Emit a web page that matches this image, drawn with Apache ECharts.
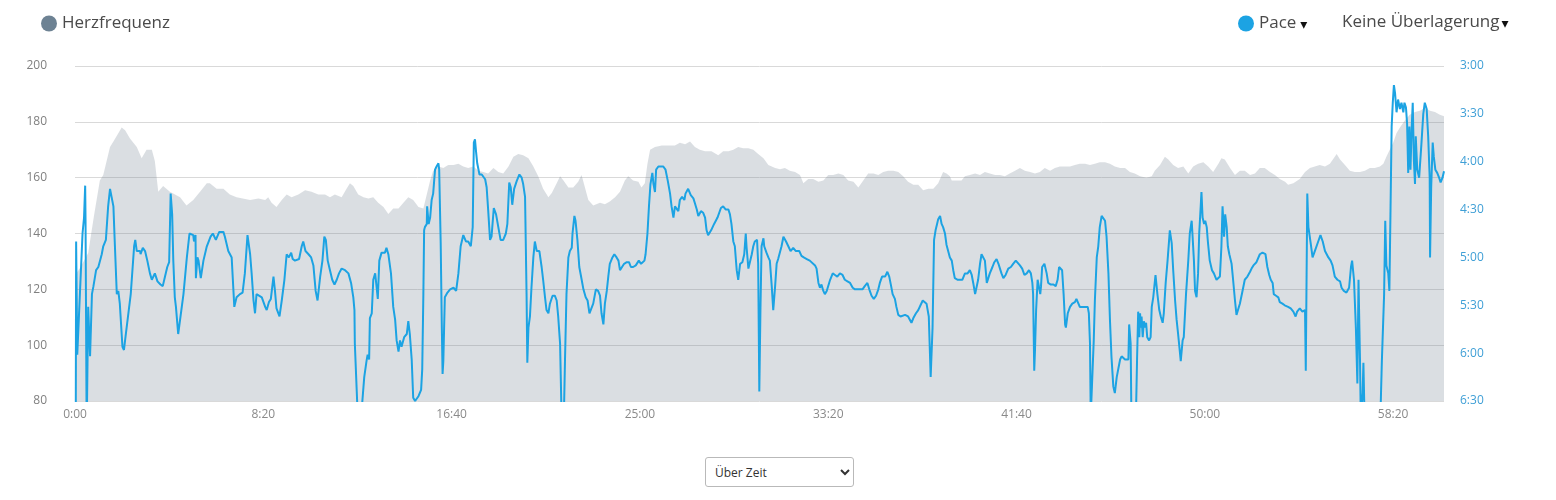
<!DOCTYPE html>
<html>
<head>
<meta charset="utf-8">
<title>Herzfrequenz / Pace</title>
<script src="https://cdn.jsdelivr.net/npm/echarts@6/dist/echarts.min.js"></script>
<style>
  html, body { margin: 0; padding: 0; background: #ffffff; }
  #wrap { position: relative; width: 1556px; height: 500px; }
  #chart { width: 1556px; height: 500px; }
  .modeSelect {
    position: absolute; left: 705px; top: 457px; width: 149px; height: 30px;
    font-family: 'Open Sans', sans-serif; font-size: 12px; color: #333;
    border: 1px solid #b9b9b9; border-radius: 3px; background: #fff; padding: 0 5px;
  }
</style>
</head>
<body>
<div id="wrap">
  <div id="chart"></div>
  <select class="modeSelect">
    <option>Über Zeit</option>
    <option>Über Distanz</option>
  </select>
</div>
<script>
  // Zeit in Sekunden, Herzfrequenz in bpm
  var heartRate = [
    [0,125],[15,128],[35,133],[50,146],[66,159],[75,161],[93,171],[102,173],[124,178],[133,177],[146,174],[164,171],
    [177,167],[190,170],[204,170],[212,166],[221,155],[234,157],[252,155],[279,153],[296,150],[314,152],[332,155],
    [350,158],[358,158],[376,156],[394,156],[411,154],[429,153],[465,152],
    [487,152.5],[505,152],[513,153],[522,151],[535,149.5],[549,152],[562,154],[575,153],[593,154],[611,155.5],
    [628,155],[646,154],[664,154],[677,153],[690,154],[708,153],[721,156],[730,158],[739,157],[752,154],[766,153],
    [779,152.5],[792,153],[805,151],[819,149.5],[832,147],[845,149],[859,149],[872,151],[885,153],[898,152],
    [912,149.5],[925,149],
    [934,154],[943,159],[951,162.5],[965,164],[978,163.5],[991,164.5],[1005,164.5],[1018,165],[1031,164],[1044,163.5],
    [1058,164],[1071,162.5],[1084,162],[1097,161.5],[1111,163.5],[1124,162],[1137,161.5],[1151,164],[1164,167.5],
    [1177,168.5],[1190,168],[1204,167],[1217,164],[1230,160.5],[1243,156],[1257,153],[1266,154.5],[1279,158],
    [1288,160.5],[1297,159],[1310,156.5],[1323,156.5],[1336,158.5],[1345,161],[1354,156.5],[1363,152],[1376,150],
    [1394,151],
    [1407,150.5],[1420,151.5],[1434,153],[1447,155],[1460,159],[1469,160.5],[1482,159],[1496,158.5],[1504,156.5],
    [1513,158],[1520,165],[1527,170],[1540,171],[1558,171.5],[1575,171.5],[1593,171.5],[1606,172.5],[1620,172],
    [1633,173],[1646,171],[1659,170],[1673,169.5],[1690,169.5],[1708,168],[1721,169.5],[1735,169.5],[1748,170],
    [1761,171],[1774,170.5],[1788,170.5],[1801,170],[1814,168.5],[1828,167],[1841,164.5],[1859,163.5],
    [1872,163],[1885,163.5],[1898,162.5],[1912,162],[1925,161],[1934,158],[1947,159.5],[1960,159.5],[1974,158.5],
    [1987,159],[2000,161],[2013,161],[2027,161.5],[2040,161],[2053,159],[2067,158.5],[2080,156.5],[2093,159],
    [2106,161.5],[2120,161.5],[2133,161],[2146,162],[2159,162.5],[2173,162.5],[2186,162],[2199,160.5],[2212,158.5],
    [2226,157.5],[2239,157.5],[2252,155.5],[2266,156],[2279,156],[2292,158],[2305,162],[2314,161.5],[2323,160.5],
    [2328,159],[2341,159],[2354,159],[2363,160.5],[2376,161],[2390,161.5],[2403,161],[2416,162],[2429,161.5],
    [2443,161],[2456,161],[2469,160.5],[2482,161.5],[2496,162.5],[2509,163.5],[2522,162.5],[2536,162],[2549,161.5],
    [2562,162],[2575,163.5],[2589,162.5],[2602,163.5],[2615,164],[2629,164],[2642,164],[2655,164.5],[2668,165],
    [2682,165],[2695,164.5],[2708,165],[2721,165.5],[2735,165.5],[2748,165],[2761,164],[2775,163.5],[2788,163.5],
    [2801,162],[2814,161.5],[2828,160.5],[2845,160],[2859,160.5],[2867,162.5],[2881,164.5],[2894,167.5],[2903,166.5],
    [2916,164.5],[2929,163.5],[2943,164],[2956,161.5],[2969,164],[2982,165],[2996,165.5],[3009,164],[3022,162],
    [3036,165],[3044,167],[3053,166.5],[3067,163.5],[3080,161],[3093,162.5],[3106,162.5],[3120,161],[3133,161.5],
    [3146,163.5],[3159,163.5],[3173,162],[3186,161],[3199,159.5],[3213,158.5],[3221,157.5],[3235,158],[3252,159.5],
    [3266,162],[3279,163.5],[3292,164],[3305,164.5],[3319,164],[3332,165],[3345,167.5],[3350,168.5],[3359,166.5],
    [3372,164.5],[3385,162.5],[3398,162],[3412,162],[3425,162.5],[3438,163.5],[3451,163.5],[3465,164],[3474,165],
    [3482,167.5],[3491,170],[3500,172.5],[3509,176],[3518,178],[3531,180.5],[3544,182.5],[3558,183.5],[3571,184],
    [3584,185],[3598,184],[3611,183.5],[3624,182.5],[3635,182]
  ];

  // Zeit in Sekunden, Pace in Sekunden pro km (Werte > 390 liegen unter dem Diagramm)
  var pace = [
    [2,410],[3,290],[6,361],[10,362],[13,323],[20,285],[24,275],[27,255],[28,277],[31,410],[35,331],[40,362],[45,323],
    [49,318],[56,308],[62,306],[71,298],[75,293],[82,289],[88,268],[93,257],[97,258],[102,268],[106,293],[111,323],
    [115,321],[119,329],[126,356],[130,358],[134,350],[137,350],[148,323],[157,293],[160,289],[164,296],[173,296],
    [174,298],[180,294],[186,296],[192,302],[199,310],[204,314],[212,310],[219,315],[227,317],[233,318],[239,312],
    [245,306],[250,303],[254,260],[258,273],[261,302],[265,325],[268,331],[274,348],[279,348],[288,323],[297,300],
    [304,285],[314,286],[316,290],[320,286],[321,313],[325,300],[328,302],[334,313],[341,302],[350,293],[360,287],
    [366,285],[374,289],[383,284],[394,284],[398,287],[407,296],[416,300],[423,331],[429,325],[438,323],[445,322],
    [451,310],[458,286],[465,298],
    [469,310],[474,327],[478,335],[482,323],[487,322],[496,325],[505,331],[509,333],[515,328],[520,326],[527,312],
    [531,321],[535,332],[543,337],[549,327],[556,314],[562,298],[568,300],[574,297],[578,301],[584,302],[589,303],
    [595,301],[602,293],[606,290],[612,296],[620,298],[627,300],[633,305],[639,321],[644,327],[651,312],[657,302],
    [662,287],[666,289],[671,302],[677,308],[683,314],[689,317],[695,314],[701,310],[708,307],[717,308],[721,307],
    [726,310],[733,316],[739,325],[742,333],[743,354],[747,354],[750,395],[757,400],[761,396],[768,375],[774,365],
    [777,361],[781,364],[783,338],[788,335],[792,314],[797,310],[801,319],[804,326],[808,302],[814,297],[819,296],
    [823,297],[827,294],[832,298],[839,310],[845,331],[850,339],[854,352],[859,359],[863,352],[867,356],[874,350],
    [881,348],[885,340],[889,348],[894,364],[898,388],[903,390],[912,387],[919,383],
    [922,370],[925,323],[927,283],[929,281],[934,279],[935,268],[939,279],[943,275],[947,264],[951,260],[956,245],
    [960,243],[965,241],[967,245],[971,291],[974,344],[976,373],[978,365],[982,325],[985,325],[989,322],[996,320],
    [1005,319],[1012,321],[1018,310],[1024,293],[1031,286],[1038,290],[1044,290],[1051,293],[1056,281],[1059,228],
    [1062,226],[1065,234],[1068,241],[1074,248],[1080,248],[1089,251],[1093,256],[1097,270],[1102,289],[1106,287],
    [1112,269],[1118,273],[1124,281],[1130,289],[1137,289],[1144,285],[1148,279],[1153,253],[1157,256],[1161,267],
    [1166,257],[1173,252],[1180,248],[1186,250],[1190,254],[1195,262],[1199,323],[1201,366],[1204,344],[1208,337],
    [1212,319],[1217,300],[1221,290],[1226,296],[1233,296],[1239,306],[1243,314],[1248,325],[1252,333],[1257,335],
    [1261,329],[1268,324],[1274,324],[1279,327],[1283,337],[1288,354],[1292,400],[1298,400],[1301,365],[1305,323],
    [1310,300],[1314,296],[1319,294],[1321,285],[1326,274],[1329,277],[1334,289],[1339,306],[1343,311],[1350,320],
    [1356,325],[1361,327],[1366,335],[1371,335],[1376,329],[1383,320],[1389,321],[1394,324],
    [1398,335],[1403,342],[1407,329],[1412,321],[1416,312],[1420,304],[1427,300],[1432,298],[1438,300],[1443,302],
    [1447,308],[1451,307],[1458,304],[1465,303],[1471,303],[1476,306],[1482,306],[1489,305],[1494,304],[1497,302],
    [1503,304],[1506,305],[1512,302],[1515,298],[1520,285],[1524,268],[1528,254],[1533,247],[1536,254],[1540,259],
    [1543,245],[1549,243],[1556,243],[1562,243],[1568,245],[1574,252],[1580,260],[1584,268],[1589,275],[1593,268],
    [1597,268],[1602,271],[1606,264],[1612,262],[1618,264],[1621,260],[1628,257],[1635,261],[1642,263],[1646,266],
    [1651,270],[1655,274],[1662,271],[1668,272],[1673,275],[1677,283],[1681,286],[1689,283],[1697,279],[1706,275],
    [1715,269],[1721,268],[1728,270],[1735,270],[1739,273],[1743,279],[1748,290],[1752,293],[1757,308],[1761,314],
    [1766,304],[1772,303],[1777,298],[1781,285],[1783,293],[1788,307],[1792,308],[1797,298],[1801,293],[1805,290],
    [1811,289],[1814,304],[1817,384],[1820,333],[1823,293],[1828,288],[1830,293],[1836,297],[1841,300],[1845,302],
    [1850,318],[1854,333],[1857,333],
    [1859,318],[1863,304],[1867,301],[1872,300],[1876,293],[1881,287],[1888,290],[1894,293],[1900,296],[1907,294],
    [1914,296],[1923,296],[1929,299],[1935,300],[1943,301],[1947,300],[1951,302],[1956,303],[1965,305],[1969,307],
    [1974,316],[1978,319],[1982,317],[1987,321],[1991,323],[1996,321],[2005,314],[2012,310],[2018,311],[2024,312],
    [2031,310],[2038,311],[2044,314],[2051,315],[2058,316],[2065,319],[2071,320],[2077,320],[2084,320],[2091,320],
    [2097,318],[2104,316],[2109,320],[2115,324],[2121,326],[2127,324],[2133,320],[2137,316],[2143,312],[2151,312],
    [2157,309],[2162,312],[2167,318],[2171,323],[2177,326],[2181,331],[2186,336],[2192,337],[2197,337],[2204,336],
    [2208,335],[2212,337],[2217,338],[2221,341],[2226,338],[2233,335],[2239,333],[2245,330],[2251,327],[2255,326],
    [2261,329],[2267,337],[2272,375],[2274,376],[2277,344],[2281,289],[2285,283],[2289,279],[2292,276],[2297,274],
    [2301,279],[2305,281],[2310,285],[2314,292],[2323,300],
    [2328,302],[2332,308],[2336,313],[2344,314],[2350,314],[2356,314],[2359,315],[2363,310],[2370,310],[2376,308],
    [2381,311],[2385,316],[2390,323],[2394,324],[2398,314],[2403,304],[2407,298],[2412,297],[2416,302],[2421,316],
    [2425,315],[2429,310],[2436,306],[2441,303],[2447,301],[2452,304],[2456,307],[2460,310],[2465,313],[2471,311],
    [2478,307],[2485,306],[2491,304],[2498,302],[2503,302],[2509,305],[2515,307],[2521,311],[2527,310],[2533,308],
    [2538,310],[2542,316],[2544,323],[2547,371],[2549,358],[2552,333],[2556,314],[2559,314],[2563,323],[2565,318],
    [2568,306],[2574,304],[2580,310],[2584,316],[2591,317],[2598,317],[2604,318],[2609,314],[2613,306],[2618,305],
    [2621,308],[2625,323],[2629,342],[2631,344],[2636,335],[2642,331],[2648,329],[2655,328],[2659,326],[2664,327],
    [2668,331],[2675,331],[2682,331],[2689,331],[2692,335],[2695,354],[2697,400],[2701,400],[2705,352],[2708,327],
    [2713,300],[2717,293],[2721,281],[2726,274],[2730,273],[2735,277],[2739,287],[2744,310],[2748,339],[2752,362],
    [2757,381],[2761,385],[2766,375],[2770,376],[2775,364],[2779,362],[2788,364],
    [2792,365],[2797,364],[2799,342],[2803,354],[2805,400],[2817,400],[2820,364],[2823,334],[2826,350],[2828,335],
    [2830,344],[2832,337],[2835,350],[2838,340],[2841,344],[2844,341],[2847,350],[2852,352],[2856,350],[2859,331],
    [2863,325],[2866,318],[2869,311],[2872,311],[2874,323],[2879,333],[2883,337],[2888,341],[2891,335],[2896,316],
    [2901,302],[2907,283],[2912,291],[2916,308],[2921,327],[2925,339],[2929,348],[2934,360],[2936,365],[2941,352],
    [2944,350],[2950,323],[2956,302],[2960,285],[2965,277],[2967,285],[2971,302],[2974,321],[2978,325],[2982,310],
    [2985,285],[2989,268],[2991,259],[2994,275],[2998,279],[3001,277],[3005,281],[3008,290],[3013,302],[3019,308],
    [3024,310],[3031,314],[3036,315],[3040,312],[3044,293],[3047,268],[3051,287],[3054,273],[3058,281],[3061,293],
    [3065,298],[3071,304],[3075,314],[3080,327],[3084,336],[3089,335],[3093,329],[3100,321],[3106,314],[3113,312],
    [3120,309],[3124,307],[3129,305],[3137,303],[3146,298],[3153,297],[3157,296],[3161,298],[3166,306],[3171,311],
    [3175,314],[3180,316],[3183,323],[3189,324],[3195,325],[3199,328],[3206,329],[3212,330],[3221,331],[3228,332],
    [3235,334],[3241,337],[3245,334],[3252,332],
    [3259,334],[3266,333],[3268,371],[3272,260],[3275,281],[3281,291],[3286,300],[3292,296],[3301,290],[3307,286],
    [3313,290],[3319,296],[3328,300],[3334,302],[3339,305],[3345,312],[3352,314],[3359,315],[3363,319],[3369,321],
    [3376,322],[3383,319],[3388,306],[3391,302],[3396,314],[3401,344],[3405,379],[3408,314],[3412,365],[3414,400],
    [3419,385],[3421,366],[3424,400],[3431,410],[3465,410],[3470,365],[3476,323],[3479,277],[3482,305],[3487,310],
    [3490,321],[3493,270],[3496,218],[3499,203],[3502,192],[3505,197],[3509,209],[3513,201],[3518,207],[3522,203],
    [3527,209],[3530,203],[3534,206],[3537,216],[3540,247],[3543,218],[3546,245],[3549,220],[3552,203],[3555,239],
    [3558,254],[3560,224],[3564,245],[3569,250],[3575,229],[3580,210],[3584,203],[3589,207],[3593,224],[3597,250],
    [3598,300],[3601,256],[3605,228],[3608,237],[3612,245],[3617,247],[3622,250],[3626,253],[3631,250],[3635,246]
  ];

  // Achsen
  var timeEnd = 3635;
  var hrTicks = [80, 100, 120, 140, 160, 180, 200];
  var paceTicks = [180, 210, 240, 270, 300, 330, 360, 390];
  var paceLabels = ['3:00', '3:30', '4:00', '4:30', '5:00', '5:30', '6:00', '6:30'];

  function fmtTime(v) {
    var m = Math.floor(v / 60);
    var s = Math.round(v % 60);
    return m + ':' + (s < 10 ? '0' : '') + s;
  }

  var font = "'Open Sans', 'Noto Sans', sans-serif";
  var myChart = echarts.init(document.getElementById('chart'));

  var option = {
    animation: false,
    textStyle: { fontFamily: font },
    legend: [
      {
        data: ['Herzfrequenz'],
        left: 36, top: 10, padding: 5,
        icon: 'circle', itemWidth: 16, itemHeight: 16,
        selectedMode: false,
        textStyle: { fontSize: 17, color: '#4a4a4a', fontFamily: font }
      },
      {
        data: ['Pace'],
        left: 1233, top: 10, padding: 5,
        icon: 'circle', itemWidth: 16, itemHeight: 16,
        selectedMode: false,
        formatter: '{t|Pace}{a|▾}',
        textStyle: {
          fontSize: 17, color: '#4a4a4a', fontFamily: font,
          rich: {
            t: { fontSize: 17, color: '#4a4a4a', fontFamily: font },
            a: { fontSize: 14, color: '#111', fontFamily: 'DejaVu Sans', padding: [3, 0, 0, 4] }
          }
        }
      }
    ],
    graphic: [
      {
        type: 'text', left: 1342, top: 14,
        style: {
          text: '{t|Keine Überlagerung}{a|▾}',
          rich: {
            t: { fontSize: 17, fill: '#4a4a4a', fontFamily: font },
            a: { fontSize: 14, fill: '#111', fontFamily: 'DejaVu Sans', padding: [3, 0, 0, 2] }
          }
        }
      }
    ],
    grid: { left: 75, right: 112, top: 66, bottom: 99 },
    xAxis: {
      type: 'value',
      min: 0, max: timeEnd, interval: 500,
      axisLine: { show: false },
      axisTick: { show: false },
      splitLine: { show: false },
      axisLabel: {
        color: '#8a8a8a', fontSize: 12, margin: 8,
        showMaxLabel: false,
        formatter: fmtTime
      }
    },
    yAxis: [
      {
        type: 'value',
        min: hrTicks[0], max: hrTicks[hrTicks.length - 1], interval: 20,
        axisLine: { show: false },
        axisTick: { show: false },
        splitLine: { lineStyle: { color: '#d9d9d9', width: 1 } },
        axisLabel: { color: '#808080', fontSize: 12, margin: 28 }
      },
      {
        type: 'value',
        inverse: true,
        min: paceTicks[0], max: paceTicks[paceTicks.length - 1], interval: 30,
        axisLine: { show: false },
        axisTick: { show: false },
        splitLine: { show: false },
        axisLabel: {
          color: '#3f9fd6', fontSize: 12, margin: 16,
          formatter: function (v) { return paceLabels[paceTicks.indexOf(v)]; }
        }
      }
    ],
    series: [
      {
        name: 'Herzfrequenz',
        type: 'line',
        yAxisIndex: 0,
        data: heartRate,
        showSymbol: false,
        itemStyle: { color: '#6d8293' },
        lineStyle: { width: 0 },
        areaStyle: { color: 'rgba(118,133,148,0.27)', opacity: 1 },
        z: 1
      },
      {
        name: 'Pace',
        type: 'line',
        yAxisIndex: 1,
        data: pace,
        showSymbol: false,
        clip: true,
        itemStyle: { color: '#1ca3e3' },
        lineStyle: { color: '#1ca3e3', width: 2 },
        z: 3
      }
    ]
  };

  myChart.setOption(option);
  window.addEventListener('resize', function () {
    myChart.resize();
  });
</script>
</body>
</html>
